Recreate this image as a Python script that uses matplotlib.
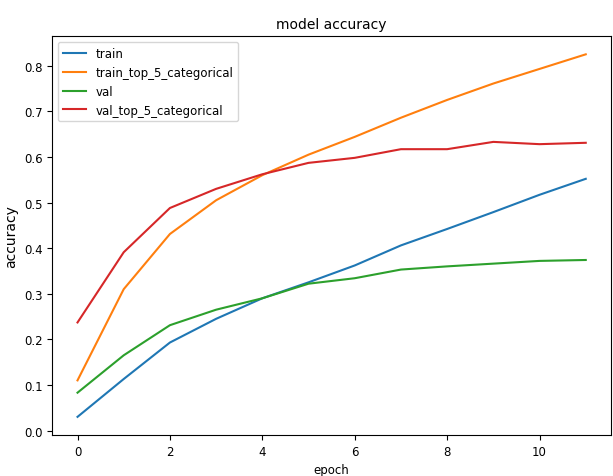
# training history plot: accuracy per epoch
import matplotlib
matplotlib.use('Agg')
import matplotlib.pyplot as plt

plt.rcParams['font.family'] = ['DejaVu Sans']
plt.rcParams['font.size'] = 8.5

epochs = list(range(12))
train = [0.03, 0.113, 0.193, 0.245, 0.29, 0.325, 0.362, 0.406, 0.442, 0.479, 0.517, 0.552]
train_top5 = [0.11, 0.31, 0.431, 0.505, 0.56, 0.605, 0.644, 0.686, 0.725, 0.761, 0.793, 0.825]
val = [0.083, 0.165, 0.231, 0.265, 0.29, 0.322, 0.334, 0.353, 0.36, 0.366, 0.372, 0.374]
val_top5 = [0.237, 0.391, 0.488, 0.53, 0.562, 0.587, 0.598, 0.617, 0.617, 0.633, 0.628, 0.631]

fig = plt.figure(figsize=(6.13, 4.77), dpi=100)
ax = fig.add_axes([0.085, 0.086, 0.912, 0.836])

ax.plot(epochs, train)
ax.plot(epochs, train_top5)
ax.plot(epochs, val)
ax.plot(epochs, val_top5)
ax.set_title('model accuracy', fontsize=10)
ax.set_ylabel('accuracy', fontsize=10)
ax.set_xlabel('epoch')
ax.legend(['train', 'train_top_5_categorical', 'val', 'val_top_5_categorical'], loc='upper left')

fig.savefig('out.png')
